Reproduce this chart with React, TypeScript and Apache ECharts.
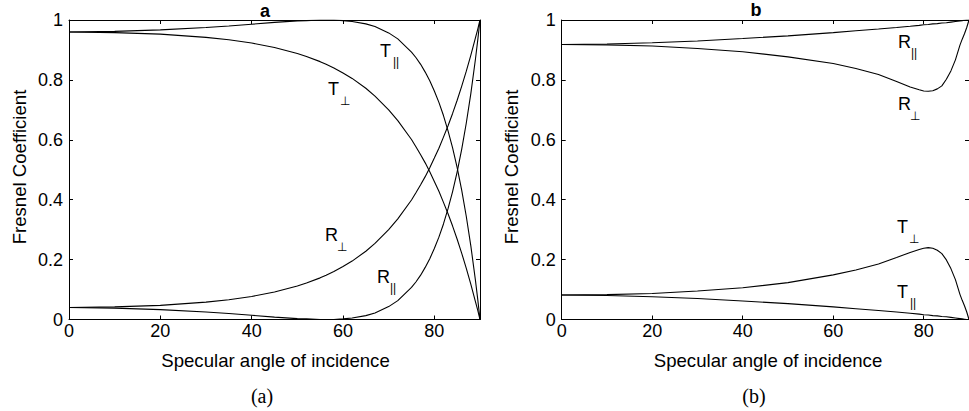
import React, { useEffect, useRef } from "react";
import * as echarts from "echarts";

// Panel a (angle of incidence in degrees)
const anglesA = [0, 10, 20, 30, 35, 40, 45, 50, 52, 55, 56.3, 58, 60, 62, 65, 67, 70, 72, 75, 76, 77, 78, 79, 80, 81, 82, 83, 84, 85, 86, 87, 88, 89, 89.5, 90];
const rPerpA = [0.040, 0.042, 0.047, 0.058, 0.066, 0.077, 0.092, 0.112, 0.122, 0.139, 0.148, 0.160, 0.177, 0.195, 0.228, 0.254, 0.300, 0.336, 0.399, 0.424, 0.450, 0.477, 0.507, 0.539, 0.572, 0.609, 0.647, 0.688, 0.732, 0.779, 0.829, 0.883, 0.940, 0.969, 1.000];
const rParA = [0.040, 0.038, 0.033, 0.025, 0.020, 0.014, 0.008, 0.003, 0.002, 0.000, 0.000, 0.000, 0.002, 0.005, 0.013, 0.022, 0.043, 0.063, 0.107, 0.126, 0.148, 0.174, 0.203, 0.237, 0.275, 0.319, 0.370, 0.427, 0.493, 0.569, 0.656, 0.755, 0.869, 0.932, 1.000];
const tPerpA = [0.960, 0.958, 0.953, 0.942, 0.934, 0.923, 0.908, 0.888, 0.878, 0.861, 0.852, 0.840, 0.823, 0.805, 0.772, 0.746, 0.700, 0.664, 0.601, 0.576, 0.550, 0.523, 0.493, 0.461, 0.428, 0.391, 0.353, 0.312, 0.268, 0.221, 0.171, 0.117, 0.060, 0.031, 0.000];
const tParA = [0.960, 0.962, 0.967, 0.975, 0.980, 0.986, 0.992, 0.997, 0.998, 1.000, 1.000, 1.000, 0.998, 0.995, 0.987, 0.978, 0.957, 0.937, 0.893, 0.874, 0.852, 0.826, 0.797, 0.763, 0.725, 0.681, 0.630, 0.573, 0.507, 0.431, 0.344, 0.245, 0.131, 0.068, 0.000];

// Panel b
const anglesB = [0, 10, 20, 30, 40, 50, 60, 65, 70, 74, 77, 79, 80, 81, 82, 83, 84, 85, 86, 87, 88, 88.5, 89, 89.5, 90];
const rPerpB = [0.918, 0.917, 0.913, 0.905, 0.894, 0.877, 0.855, 0.838, 0.818, 0.795, 0.776, 0.767, 0.763, 0.762, 0.764, 0.770, 0.780, 0.802, 0.830, 0.867, 0.916, 0.936, 0.954, 0.975, 1.000];
const tPerpB = [0.082, 0.083, 0.087, 0.095, 0.106, 0.123, 0.149, 0.165, 0.185, 0.207, 0.224, 0.234, 0.238, 0.240, 0.238, 0.231, 0.220, 0.199, 0.170, 0.133, 0.084, 0.064, 0.046, 0.025, 0.000];
const rParB = [0.918, 0.920, 0.924, 0.930, 0.938, 0.947, 0.958, 0.964, 0.970, 0.975, 0.979, 0.982, 0.984, 0.985, 0.987, 0.988, 0.990, 0.991, 0.993, 0.995, 0.997, 0.998, 0.999, 1.000, 1.000];
const tParB = [0.082, 0.080, 0.076, 0.070, 0.062, 0.053, 0.042, 0.036, 0.030, 0.025, 0.021, 0.018, 0.016, 0.015, 0.013, 0.012, 0.010, 0.009, 0.007, 0.005, 0.003, 0.002, 0.001, 0.000, 0.000];

const xLabel = "Specular angle of incidence";
const yLabel = "Fresnel Coefficient";

const SANS = "'Liberation Sans', Arial, Helvetica, sans-serif";
const SERIF = "'Liberation Serif', 'Times New Roman', serif";
const SYMBOL = "'DejaVu Sans', sans-serif";

const pairs = (xs: number[], ys: number[]) => xs.map((x, i) => [x, ys[i]]);

function xAxisDef(gridIndex: number, position: "bottom" | "top", labels: boolean) {
  return {
    type: "value",
    gridIndex,
    position,
    min: 0,
    max: 90,
    interval: 20,
    axisLine: { show: true, onZero: false, lineStyle: { color: "#000", width: 1 } },
    axisTick: { show: true, inside: true, length: 4, lineStyle: { color: "#000" } },
    axisLabel: {
      show: labels,
      showMaxLabel: false,
      margin: 2,
      color: "#000",
      fontSize: 18,
      fontFamily: SANS,
    },
    splitLine: { show: false },
  };
}

function yAxisDef(gridIndex: number, position: "left" | "right", labels: boolean) {
  return {
    type: "value",
    gridIndex,
    position,
    min: 0,
    max: 1,
    interval: 0.2,
    axisLine: { show: true, onZero: false, lineStyle: { color: "#000", width: 1 } },
    axisTick: { show: true, inside: true, length: 4, lineStyle: { color: "#000" } },
    axisLabel: {
      show: labels,
      margin: 6,
      color: "#000",
      fontSize: 18,
      fontFamily: SANS,
    },
    splitLine: { show: false },
  };
}

function lineSeries(xi: number, yi: number, data: number[][]) {
  return {
    type: "line",
    xAxisIndex: xi,
    yAxisIndex: yi,
    data,
    showSymbol: false,
    smooth: false,
    lineStyle: { color: "#000", width: 1.1 },
    silent: true,
  };
}

function txt(text: string, x: number, y: number, size: number, opts: any = {}) {
  return {
    type: "text",
    x,
    y,
    rotation: opts.rotation || 0,
    style: {
      text,
      fill: "#000",
      fontSize: size,
      fontFamily: opts.family || SANS,
      fontWeight: opts.weight || "normal",
      align: opts.align || "center",
      verticalAlign: opts.valign || "middle",
    },
    silent: true,
  };
}

function label(main: string, sub: string, x: number, y: number) {
  const isPerp = sub === "⊥";
  return [
    txt(main, x, y, 18, { align: "left" }),
    isPerp
      ? txt("⊥", x + 12, y + 12, 12, { align: "left", family: SYMBOL })
      : txt("||", x + 13, y + 11, 12, { align: "left" }),
  ];
}

export default function App() {
  const ref = useRef<HTMLDivElement>(null);
  useEffect(() => {
    if (!ref.current) return;
    const chart = echarts.init(ref.current, null, { renderer: "svg" });
    chart.setOption({
      animation: false,
      backgroundColor: "#fff",
      grid: [
        { left: 69, top: 20, width: 411, height: 299.5, show: false },
        { left: 561.7, top: 20, width: 411.3, height: 299.5, show: false },
      ],
      xAxis: [
        xAxisDef(0, "bottom", true),
        xAxisDef(0, "top", false),
        xAxisDef(1, "bottom", true),
        xAxisDef(1, "top", false),
      ],
      yAxis: [
        yAxisDef(0, "left", true),
        yAxisDef(0, "right", false),
        yAxisDef(1, "left", true),
        yAxisDef(1, "right", false),
      ],
      series: [
        lineSeries(0, 0, pairs(anglesA, rPerpA)),
        lineSeries(0, 0, pairs(anglesA, rParA)),
        lineSeries(0, 0, pairs(anglesA, tPerpA)),
        lineSeries(0, 0, pairs(anglesA, tParA)),
        lineSeries(2, 2, pairs(anglesB, rPerpB)),
        lineSeries(2, 2, pairs(anglesB, rParB)),
        lineSeries(2, 2, pairs(anglesB, tPerpB)),
        lineSeries(2, 2, pairs(anglesB, tParB)),
      ],
      graphic: [
        txt("a", 265, 11, 18, { weight: "bold" }),
        txt("b", 756, 10, 18, { weight: "bold" }),
        txt(xLabel, 275.5, 360, 18.6),
        txt(xLabel, 768, 360, 18.6),
        txt(yLabel, 19, 167, 18.6, { rotation: Math.PI / 2 }),
        txt(yLabel, 511.5, 167, 18.6, { rotation: Math.PI / 2 }),
        txt("(a)", 262, 396, 20, { family: SERIF }),
        txt("(b)", 754, 396, 20, { family: SERIF }),
        ...label("T", "||", 380, 51),
        ...label("T", "⊥", 328, 89),
        ...label("R", "⊥", 325, 235),
        ...label("R", "||", 377, 277),
        ...label("R", "||", 898, 42),
        ...label("R", "⊥", 898, 104),
        ...label("T", "⊥", 897, 227),
        ...label("T", "||", 897, 292),
      ],
    });
    return () => chart.dispose();
  }, []);
  return (
    <div
      ref={ref}
      style={{ position: "absolute", left: 0, top: 0, width: 969, height: 411, background: "#fff" }}
    />
  );
}
